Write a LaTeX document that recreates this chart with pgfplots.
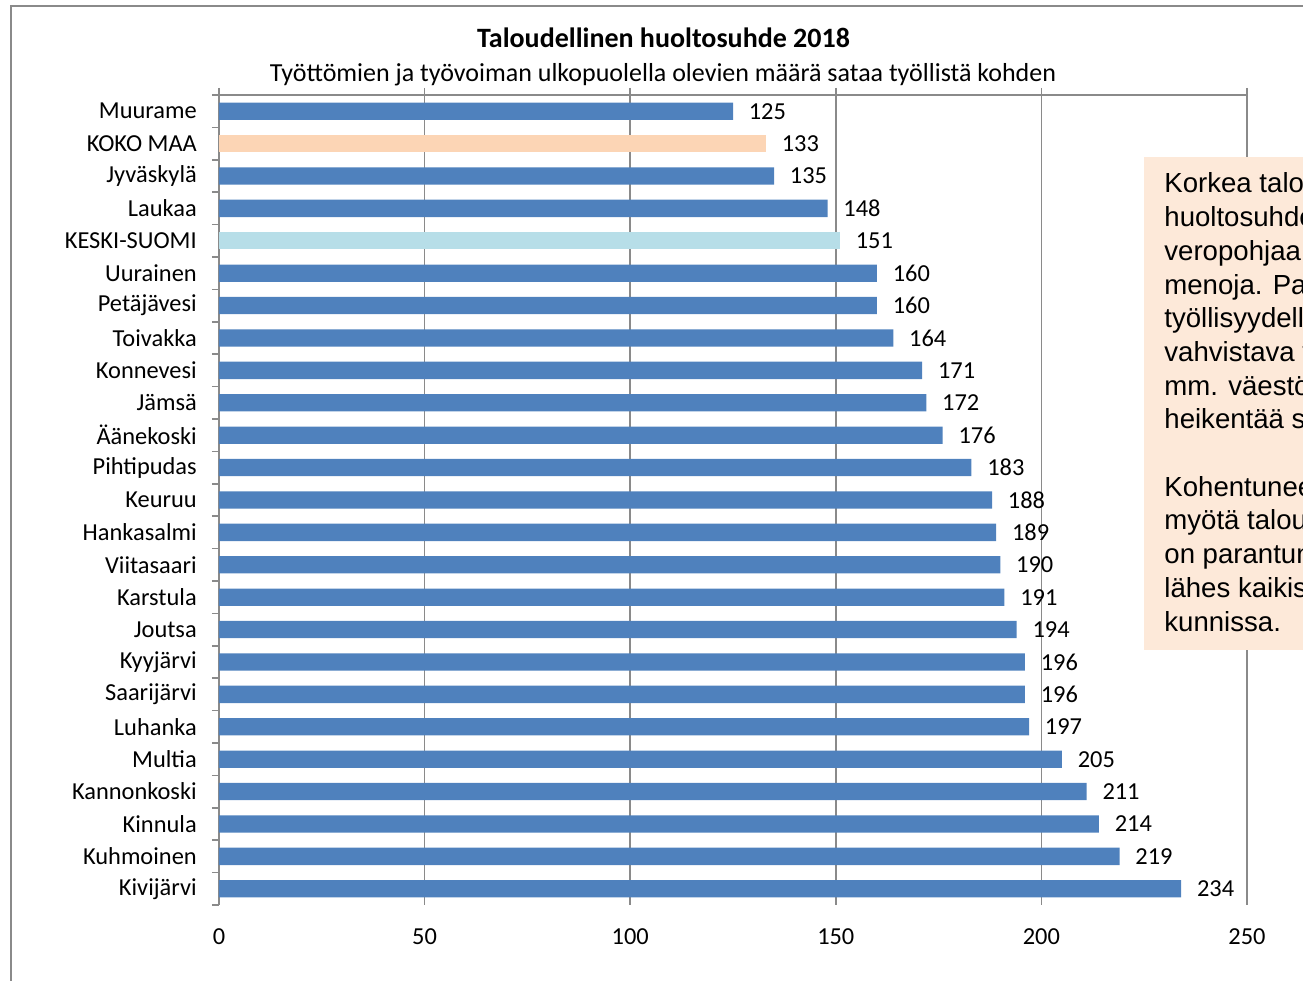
\documentclass[border=0pt]{standalone}
\usepackage{fontspec}
\setmainfont{Carlito}
\newfontfamily\arialf{Liberation Sans}
\usepackage{pgfplots}
\pgfplotsset{compat=1.18}
\pgfkeys{/pgf/number format/assume math mode=true}
\definecolor{barblue}{HTML}{4F81BD}
\definecolor{peach}{HTML}{FCD5B5}
\definecolor{lblue}{HTML}{B7DEE8}
\definecolor{gridgray}{HTML}{8A8A8A}
\definecolor{boxfill}{HTML}{FDE9D9}
\begin{document}
\begin{tikzpicture}
\useasboundingbox (0,0) rectangle (651.5pt,490.5pt);
\clip (0,0) rectangle (651.5pt,490.5pt);
% outer chart frame
\draw[gridgray, line width=0.8pt] (5.5pt,-5pt) -- (5.5pt,487.5pt) -- (700pt,487.5pt);
% titles
\node[anchor=base, font=\fontsize{14}{16}\selectfont\bfseries] at (331.75pt,466.5pt) {Taloudellinen huoltosuhde 2018};
\node[anchor=base, font=\fontsize{13}{15}\selectfont] at (331.5pt,449.5pt) {Työttömien ja työvoiman ulkopuolella olevien määrä sataa työllistä kohden};
\begin{axis}[
  at={(109.5pt,38pt)}, anchor=south west,
  scale only axis, width=514pt, height=405pt,
  xbar, bar width=8.65pt, bar shift=0pt,
  xmin=0, xmax=250, ymin=-0.5, ymax=24.5,
  separate axis lines,
  axis line style={draw=none},
  xtick pos=right, xticklabel pos=left,
  ytick pos=left, yticklabel pos=left,
  xtick={0,50,...,250},
  minor xtick={0,50,...,250},
  ytick={0,...,24},
  minor ytick={-0.5,0.5,...,24.5},
  yticklabels={Kivijärvi,Kuhmoinen,Kinnula,Kannonkoski,Multia,Luhanka,Saarijärvi,Kyyjärvi,Joutsa,Karstula,Viitasaari,Hankasalmi,Keuruu,Pihtipudas,Äänekoski,Jämsä,Konnevesi,Toivakka,Petäjävesi,Uurainen,KESKI-SUOMI,Laukaa,Jyväskylä,KOKO MAA,Muurame},
  tick align=outside,
  major tick length=0pt, minor tick length=3.5pt,
  every tick/.style={gridgray, line width=0.75pt},
  xmajorgrids, major grid style={gridgray, line width=0.75pt},
  tick label style={font=\fontsize{12.2}{14}\selectfont},
  xticklabel style={anchor=north, yshift=-8.3pt},
  yticklabel style={anchor=east, xshift=-7.6pt},
  nodes near coords, nodes near coords align={horizontal},
  every node near coord/.append style={font=\fontsize{12.2}{14}\selectfont, anchor=west, xshift=4.4pt, black},
  clip=false,
]
\draw[gridgray, line width=0.75pt] (rel axis cs:0,0) -- (rel axis cs:0,1) -- (rel axis cs:1,1);
\addplot[fill=barblue, draw=none] coordinates {
(234,0) (219,1) (214,2) (211,3) (205,4) (197,5) (196,6) (196,7) (194,8) (191,9) (190,10) (189,11) (188,12) (183,13) (176,14) (172,15) (171,16) (164,17) (160,18) (160,19) (148,21) (135,22) (125,24)};
\addplot[fill=lblue, draw=none] coordinates {(151,20)};
\addplot[fill=peach, draw=none] coordinates {(133,23)};
\end{axis}
% text box
\fill[boxfill] (572pt,165.5pt) rectangle (700pt,412pt);
\foreach \t [count=\i from 0] in {Korkea taloudellinen,huoltosuhde heikentää,veropohjaa ja lisää,menoja. Parempi,työllisyydellä on,vahvistava vaikutus,mm. väestön ikääntyminen,heikentää suhdetta.,{},Kohentuneen työllisyyden,myötä taloudellinen,on parantunut,lähes kaikissa,kunnissa.}
  \node[anchor=base west, inner sep=0pt, font=\arialf\fontsize{13.8}{16}\selectfont] at (582pt,394pt-16.85pt*\i) {\t};
\end{tikzpicture}
\end{document}
